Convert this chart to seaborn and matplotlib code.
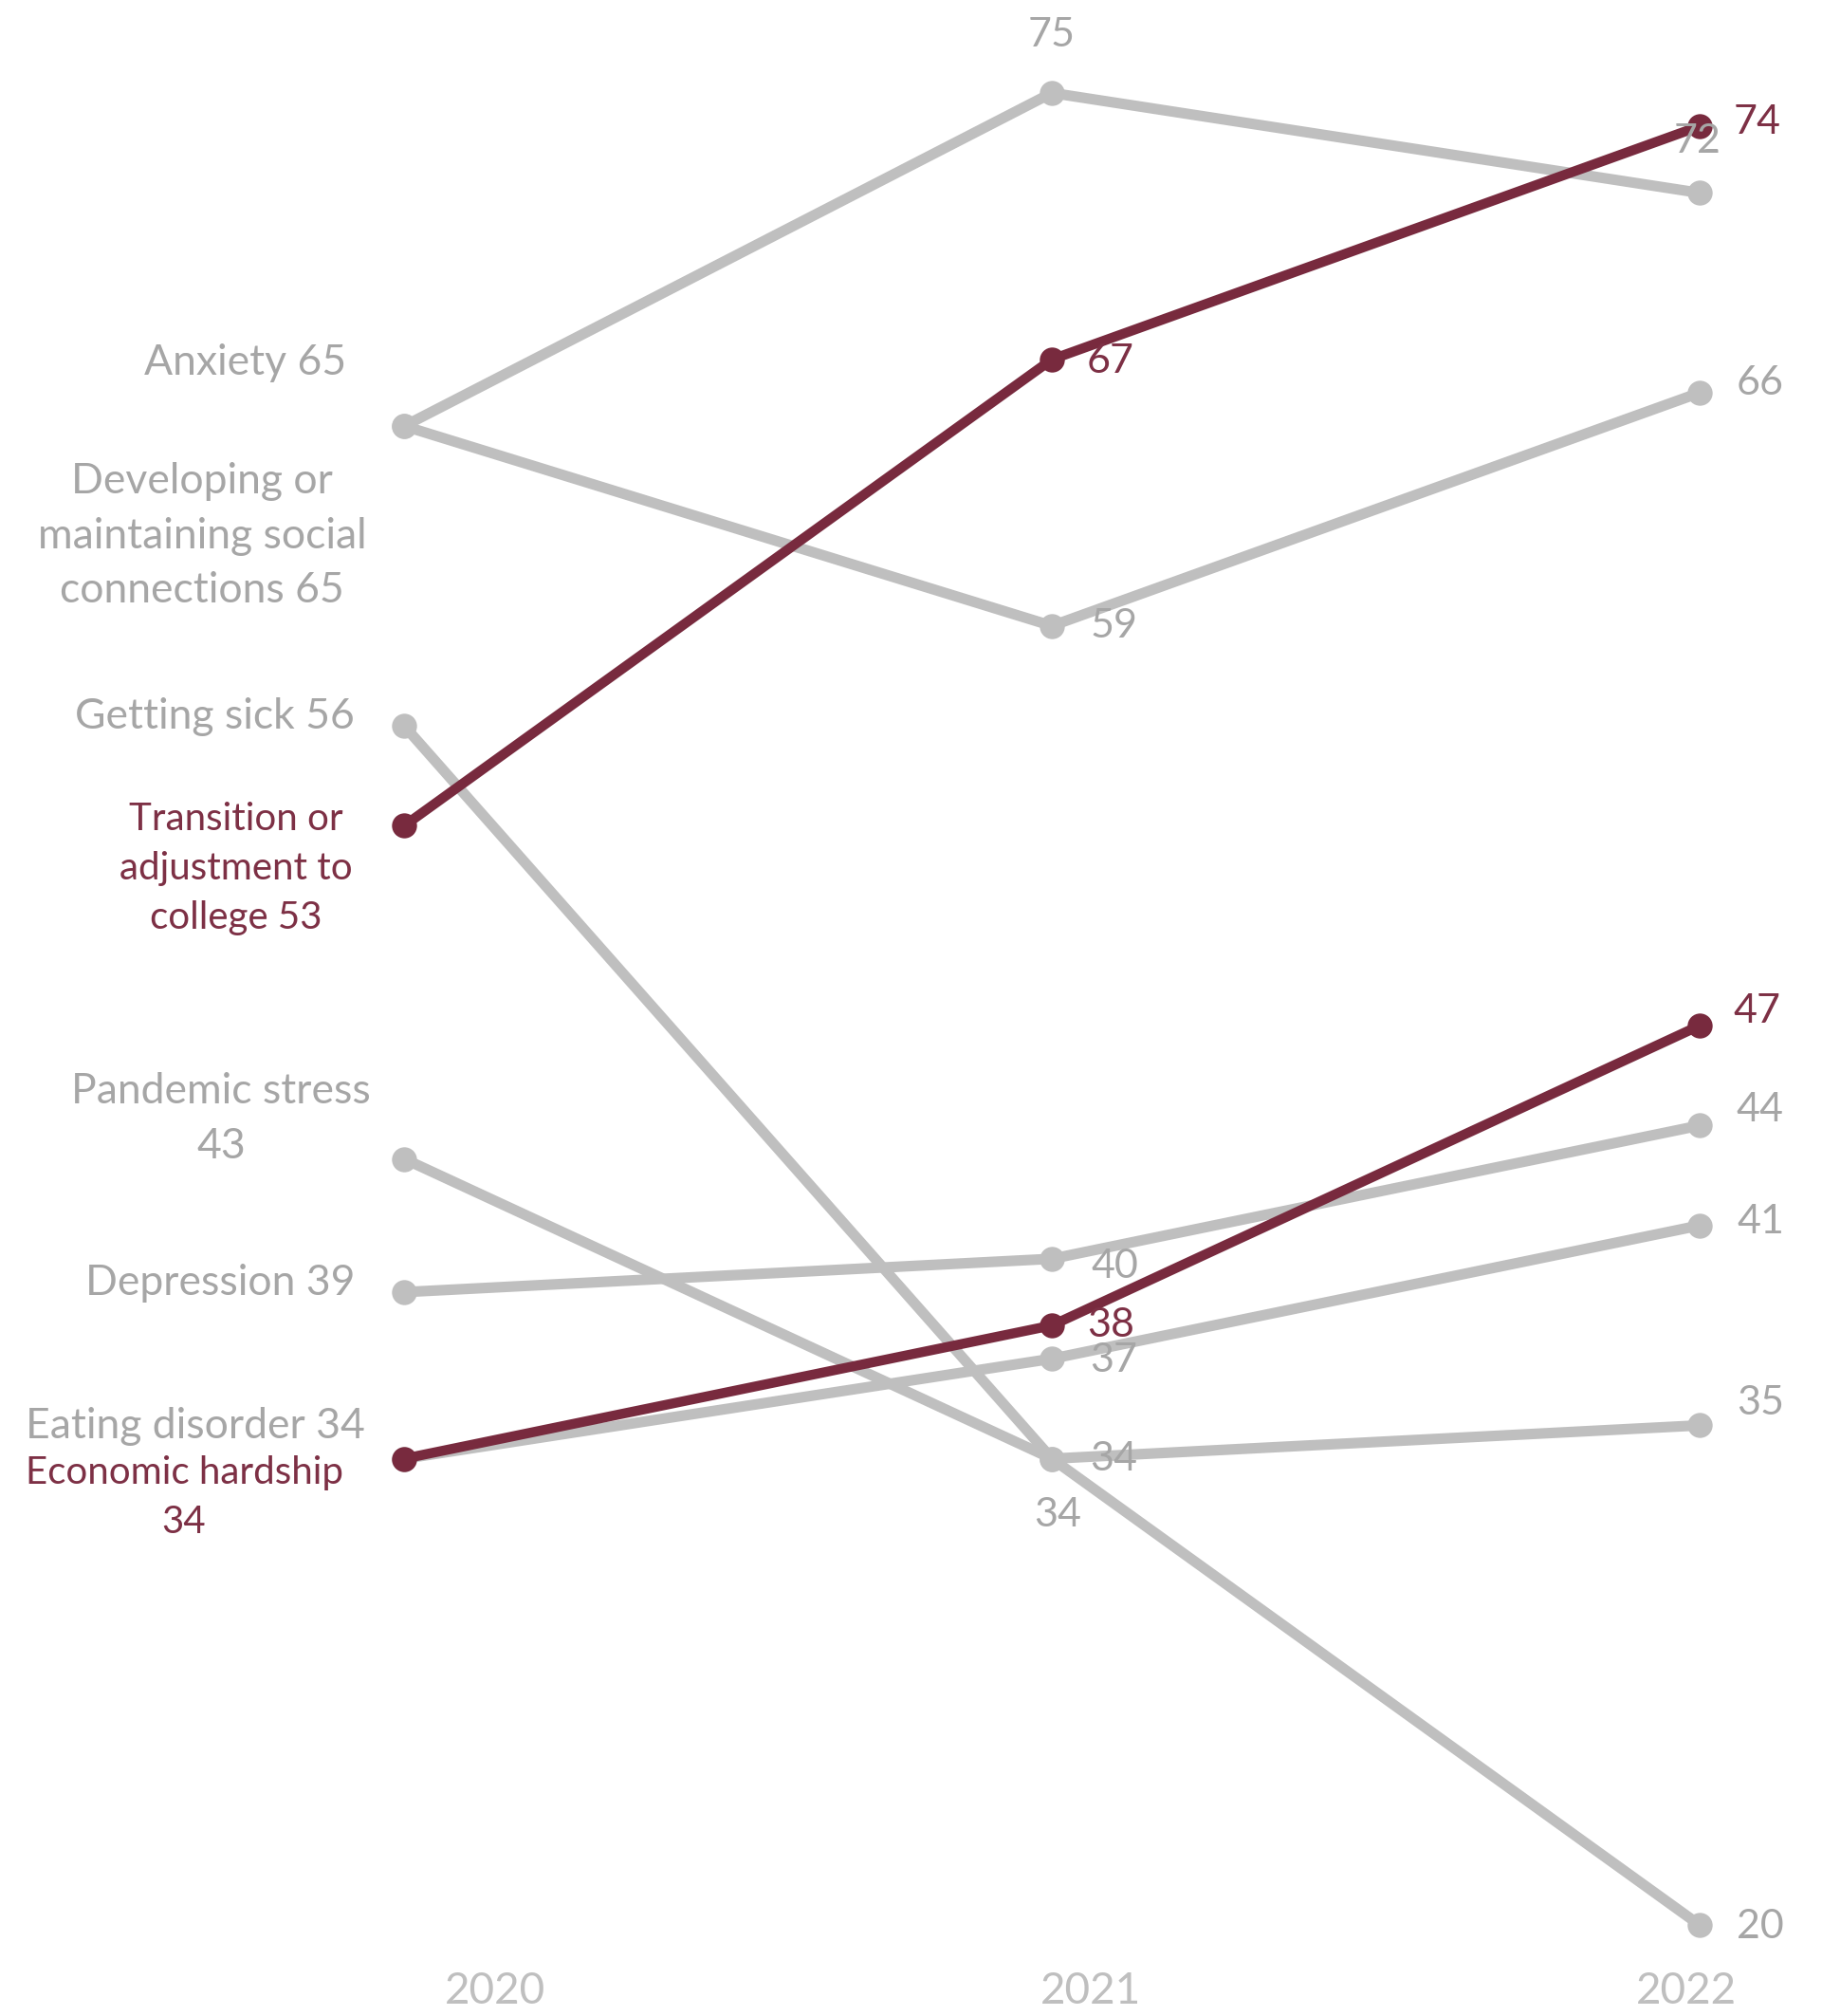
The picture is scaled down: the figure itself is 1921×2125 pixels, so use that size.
import matplotlib
matplotlib.use("Agg")
import matplotlib.pyplot as plt
import seaborn as sns
import pandas as pd

# ---- data -------------------------------------------------------------
years = [2020, 2021, 2022]
year_labels = ["2020", "2021", "2022"]

anxiety = [65, 75, 72]
social_connections = [65, 59, 66]
getting_sick = [56, 34, 20]
transition = [53, 67, 74]
pandemic_stress = [43, 34, 35]
depression = [39, 40, 44]
eating_disorder = [34, 37, 41]
economic_hardship = [34, 38, 47]

series_names = ["Anxiety", "Developing or maintaining social connections",
                "Getting sick", "Transition or adjustment to college",
                "Pandemic stress", "Depression", "Eating disorder",
                "Economic hardship"]
series_values = [anxiety, social_connections, getting_sick, transition,
                 pandemic_stress, depression, eating_disorder, economic_hardship]
highlighted = ["Transition or adjustment to college", "Economic hardship"]

# wrapped label text for the 2020 end of each line, and the joiner before the value
left_text = ["Anxiety", "Developing or\nmaintaining social\nconnections",
             "Getting sick", "Transition or\nadjustment to\ncollege",
             "Pandemic stress", "Depression", "Eating disorder",
             "Economic hardship"]
left_join = [" ", " ", " ", " ", "\n", " ", " ", "\n"]

# ---- layout (pixel offsets of the labels from their points) -------------
left_offsets = [(-168, 67), (-213, -116), (-200, 10), (-177, -45),
                (-193, 42), (-194, 9), (-220, 34), (-232, -41)]
mid_offsets = [(0, 61), (66, 0), (6, -59), (62, -2),
               (65, 0), (66, -8), (65, -2), (62, 0)]
right_offsets = [(-2, 54), (64, 10), (64, -2), (61, 4),
                 (64, 23), (64, 16), (64, 4), (61, 15)]

GREY_LINE = "#BFBFBF"
GREY_TEXT = "#A6A6A6"
MAROON = "#782A3E"
MAROON_TEXT = "#7D3045"

sns.set_theme(style="white")
plt.rcParams["font.family"] = ["Lato", "DejaVu Sans"]

fig = plt.figure(figsize=(19.21, 21.25), dpi=100)
ax = fig.add_axes([0.0, 65 / 2125, 1.0, 2060 / 2125])

long_df = pd.DataFrame({
    "year": [y for _ in series_names for y in years],
    "value": [v for vals in series_values for v in vals],
    "series": [n for n in series_names for _ in years],
})

# grey lines first, highlighted ones on top
order = [n for n in series_names if n not in highlighted] + highlighted
for name in order:
    sub = long_df[long_df["series"] == name]
    is_hl = name in highlighted
    sns.lineplot(data=sub, x="year", y="value", ax=ax,
                 color=MAROON if is_hl else GREY_LINE,
                 linewidth=7.5 if is_hl else 8.0,
                 marker="o", markersize=19, markeredgewidth=0,
                 sort=False, legend=False, zorder=3 if is_hl else 2)

for i, name in enumerate(series_names):
    vals = series_values[i]
    is_hl = name in highlighted
    tcol = MAROON_TEXT if is_hl else GREY_TEXT
    ax.annotate(f"{left_text[i]}{left_join[i]}{vals[0]}", xy=(years[0], vals[0]),
                xytext=left_offsets[i], textcoords="offset pixels",
                ha="center", va="center", fontsize=29 if is_hl else 32,
                color=tcol, linespacing=1.5, annotation_clip=False)
    ax.annotate(f"{vals[1]}", xy=(years[1], vals[1]),
                xytext=mid_offsets[i], textcoords="offset pixels",
                ha="center", va="center", fontsize=31, color=tcol,
                annotation_clip=False)
    ax.annotate(f"{vals[2]}", xy=(years[2], vals[2]),
                xytext=right_offsets[i], textcoords="offset pixels",
                ha="center", va="center", fontsize=31, color=tcol,
                annotation_clip=False)

ax.set_xlim(2019.376, 2022.189)
ax.set_ylim(19.12, 77.79)
ax.set_xticks([2020.14, 2021.06, 2021.98])
ax.set_xticklabels(year_labels, fontsize=33, color="#BFBFBF")
ax.tick_params(axis="x", length=0, pad=13)
ax.set_yticks([])
ax.set_xlabel("")
ax.set_ylabel("")
for s in ax.spines.values():
    s.set_visible(False)
ax.set_facecolor("white")
fig.patch.set_facecolor("white")

fig.savefig("out.png", dpi=100, facecolor="white")
